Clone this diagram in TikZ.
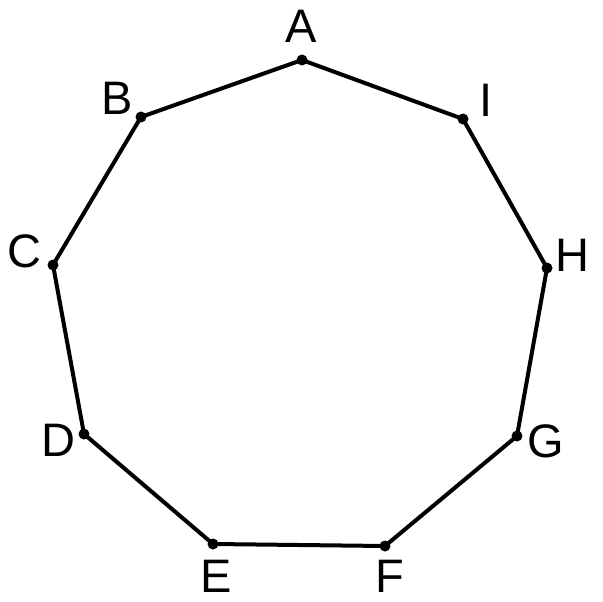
\documentclass[tikz,border=0pt]{standalone}
\usepackage{fontspec}
\setmainfont{Liberation Sans}
\begin{document}
\begin{tikzpicture}[x=1pt,y=-1pt,
  edge/.style={line width=4pt,line join=round},
  vdot/.style={circle,fill=black,inner sep=0pt,minimum size=11pt},
  lab/.style={inner sep=0pt,font=\fontsize{47}{47}\selectfont}]
\useasboundingbox (0,0) rectangle (603,602);
\coordinate (A) at (302,60);
\coordinate (B) at (141,117);
\coordinate (C) at (53,265);
\coordinate (D) at (84,434);
\coordinate (E) at (213,544);
\coordinate (F) at (385,546);
\coordinate (G) at (517,436);
\coordinate (H) at (547,268);
\coordinate (I) at (463,119);
\draw[edge] (A) -- (B) -- (C) -- (D) -- (E) -- (F) -- (G) -- (H) -- (I) -- cycle;
\foreach \p in {A,B,C,D,E,F,G,H,I}{\node[vdot] (d\p) at (\p) {};}
\node[lab] (lA) at (301,26) {A};
\node[lab] (lB) at (117,98) {B};
\node[lab] (lC) at (24,251) {C};
\node[lab] (lD) at (58,440) {D};
\node[lab] (lE) at (216,576) {E};
\node[lab] (lF) at (390,576) {F};
\node[lab] (lG) at (546,441) {G};
\node[lab] (lH) at (572,255) {H};
\node[lab] (lI) at (486,100) {I};
\end{tikzpicture}
\end{document}
